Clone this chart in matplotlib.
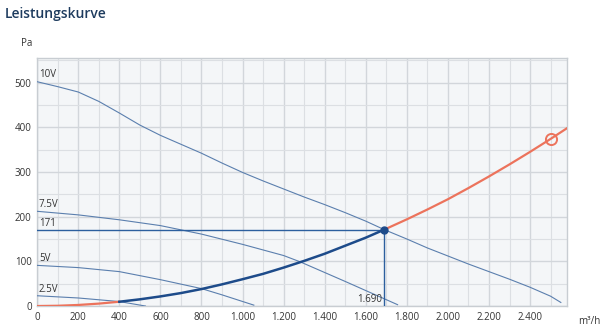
import numpy as np
import matplotlib.pyplot as plt
from matplotlib.ticker import MultipleLocator, FixedLocator

# fan curves (m3/h, Pa)
x_10v = [0, 100, 200, 300, 400, 500, 600, 700, 800, 900, 1000, 1100, 1200, 1300, 1400, 1500, 1600, 1690,
         1800, 1900, 2000, 2100, 2200, 2300, 2400, 2500, 2550]
y_10v = [502, 491, 479, 458, 432, 405, 382, 362, 342, 320, 299, 280, 262, 244, 227, 209, 190, 171,
         150, 130, 112, 94, 77, 60, 42, 22, 8]
x_75v = [0, 200, 400, 600, 800, 1000, 1200, 1280, 1500, 1755]
y_75v = [212, 204, 193, 180, 161, 138, 113, 99, 55, 3]
x_5v = [0, 200, 400, 600, 800, 900, 1055]
y_5v = [91, 86, 77, 59, 39, 25, 2]
x_25v = [0, 200, 400, 527]
y_25v = [23, 18, 10, 0]

# system curve
x_sys = [0, 100, 200, 300, 400, 500, 600, 700, 800, 900, 1000, 1100, 1200, 1300, 1400, 1500, 1600, 1690,
         1800, 1900, 2000, 2100, 2200, 2300, 2400, 2500, 2580]
y_sys = [0, 0.6, 2.4, 5.4, 9.6, 15, 21.5, 29, 38, 48.5, 60, 72, 86, 101, 117, 135, 153, 171,
         194, 216, 239, 264, 290, 317, 345, 374, 398]

op_x, op_y = 1690, 171
max_x, max_y = 2500, 374
x_ticks = [0, 200, 400, 600, 800, 1000, 1200, 1400, 1600, 1800, 2000, 2200, 2400]
x_labels = ['0', '200', '400', '600', '800', '1.000', '1.200', '1.400', '1.600', '1.800', '2.000', '2.200', '2.400']
y_ticks = [0, 100, 200, 300, 400, 500]

plt.rcParams['font.family'] = ['Open Sans', 'DejaVu Sans']

fig = plt.figure(figsize=(6, 3.28), dpi=100)
ax = fig.add_axes([0.062, 0.067, 0.883, 0.756])
ax.set_facecolor('#f4f6f8')

thin = '#5b7fae'
dark = '#1d4b8a'
red = '#ec735c'

for xs, ys in [(x_10v, y_10v), (x_75v, y_75v), (x_5v, y_5v), (x_25v, y_25v)]:
    ax.plot(xs, ys, color=thin, lw=0.8, zorder=3)

xs = np.array(x_sys)
ys = np.array(y_sys)
lo = xs <= 400
mid = (xs >= 400) & (xs <= op_x)
hi = xs >= op_x
ax.plot(xs[lo], ys[lo], color=red, lw=1.6, zorder=4)
ax.plot(xs[mid], ys[mid], color=dark, lw=1.8, zorder=4)
ax.plot(xs[hi], ys[hi], color=red, lw=1.6, zorder=4)

ax.plot([0, op_x], [op_y, op_y], color='#2c5f9e', lw=1.0, zorder=3)
ax.plot([op_x, op_x], [0, op_y], color='#2c5f9e', lw=1.0, zorder=3)
ax.plot(op_x, op_y, 'o', color=dark, ms=5, zorder=5)
ax.plot(max_x, max_y, 'o', mfc='none', mec=red, mew=1.4, ms=8, zorder=5)

lab = dict(fontsize=7, color='#333333', zorder=6)
ax.text(8, 507, '10V', va='bottom', **lab)
ax.text(8, 214, '7.5V', va='bottom', **lab)
ax.text(8, 173, '171', va='bottom', **lab)
ax.text(8, 93, '5V', va='bottom', **lab)
ax.text(8, 25, '2.5V', va='bottom', **lab)
ax.text(op_x - 10, 3, '1.690', ha='right', va='bottom', **lab)

ax.set_xlim(0, 2580)
ax.set_ylim(0, 555)
ax.xaxis.set_major_locator(FixedLocator(x_ticks))
ax.set_xticklabels(x_labels)
ax.xaxis.set_minor_locator(MultipleLocator(100))
ax.yaxis.set_major_locator(FixedLocator(y_ticks))
ax.yaxis.set_minor_locator(MultipleLocator(50))
ax.grid(which='major', color='#d2d6db', lw=1.0, zorder=0)
ax.grid(which='minor', color='#dcdfe3', lw=0.8, zorder=0)
ax.set_axisbelow(True)
ax.tick_params(which='both', length=0, labelsize=7, labelcolor='#333333', pad=4)
for s in ax.spines.values():
    s.set_color('#c8cdd2')
    s.set_linewidth(1.0)

fig.text(5 / 600, 1 - 14 / 328, 'Leistungskurve', fontsize=10, color='#1d3b5e',
         fontweight='semibold', va='center', ha='left')
fig.text(27 / 600, 1 - 44 / 328, 'Pa', fontsize=7, color='#333333', va='center', ha='center')
fig.text(589 / 600, 1 - 322 / 328, 'm³/h', fontsize=7, color='#333333', va='center', ha='center')

fig.savefig('out.png', dpi=100, facecolor='white')
